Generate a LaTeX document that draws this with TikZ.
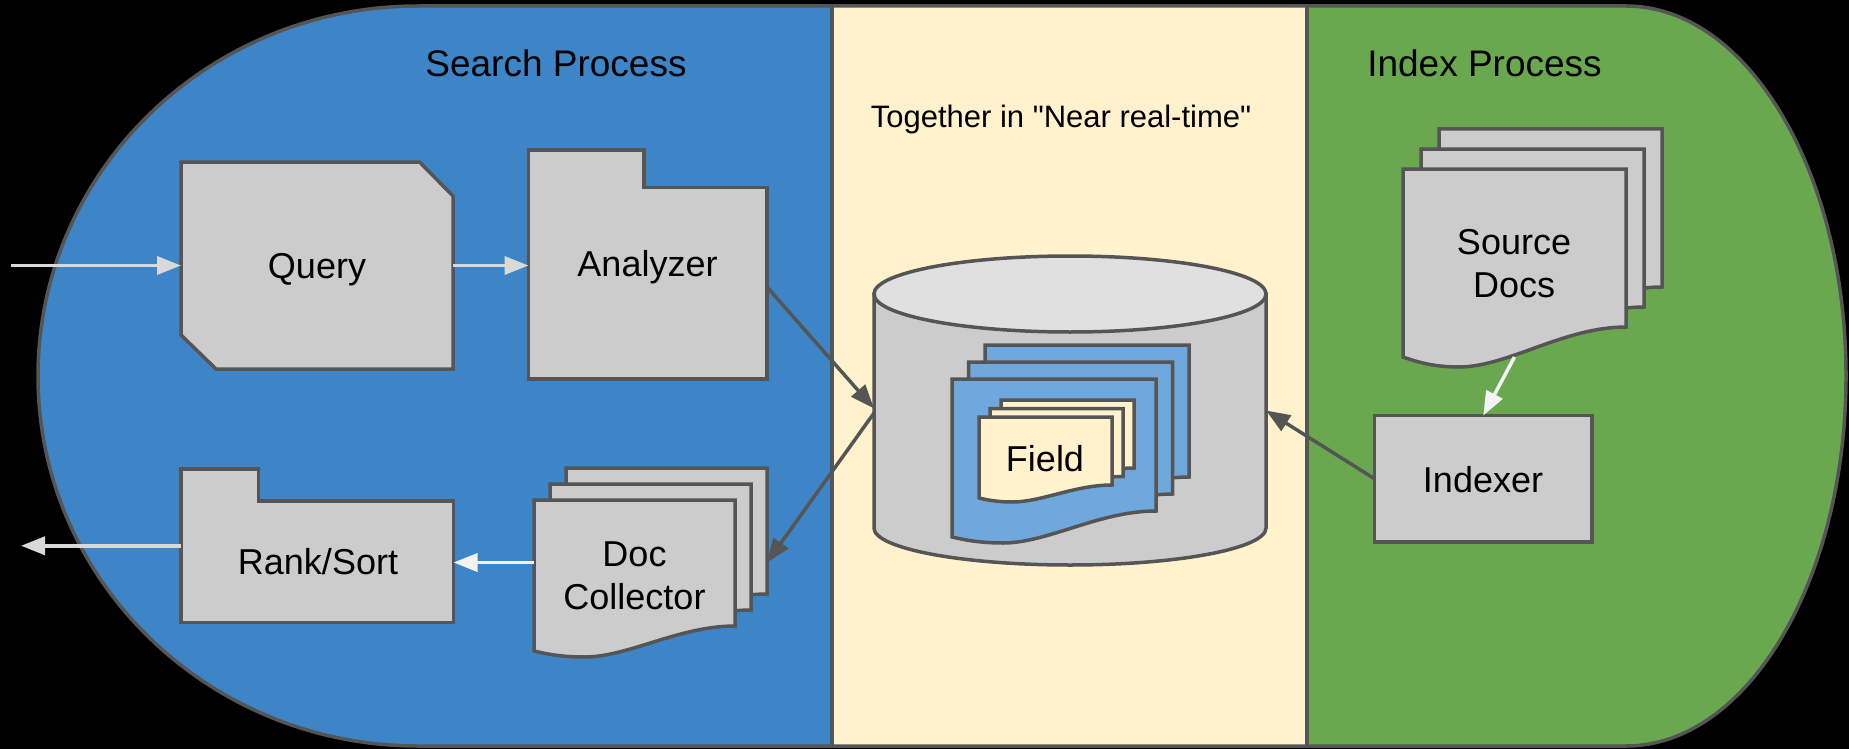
\documentclass[tikz,border=0pt]{standalone}
\usepackage{fontspec}
\setmainfont{Liberation Sans}
% same face without TeX ligatures, so that " stays a straight quote
\newfontfamily\straightquotes{Liberation Sans}
\usetikzlibrary{arrows.meta}

\definecolor{searchblue}{HTML}{3D85C6}
\definecolor{indexgreen}{HTML}{6AA84F}
\definecolor{nrtyellow}{HTML}{FFF2CC}
\definecolor{boxgray}{HTML}{CCCCCC}
\definecolor{lidgray}{HTML}{E0E0E0}
\definecolor{segblue}{HTML}{6FA8DC}
\definecolor{edgegray}{HTML}{555555}
\definecolor{lightline}{HTML}{D9D9D9}
\definecolor{whiteline}{HTML}{F3F3F3}

% document page with a wavy bottom edge
% #1 style, #2 left, #3 top, #4 right, #5 bottom at right, #6 bottom at left, #7 lowest point of the wave
\newcommand\pagewave[7]{%
  \filldraw[#1] (#2,#3) -- (#4,#3) -- (#4,#5)
    .. controls ({#4-0.28*(#4-#2)},#5) and ({#2+0.47*(#4-#2)},#7) .. ({#2+0.25*(#4-#2)},#7)
    .. controls ({#2+0.12*(#4-#2)},#7) and ({#2+0.04*(#4-#2)},{#6+0.3*(#7-#6)}) .. (#2,#6) -- cycle;}

\begin{document}
\begin{tikzpicture}[x=1pt,y=-1pt,
  outline/.style={draw=edgegray, line width=3.5pt},
  shapebox/.style={fill=boxgray, draw=edgegray, line width=3.5pt, line join=miter},
  anchorbox/.style={rectangle, draw=none, fill=none, inner sep=0pt, outer sep=0pt},
  lbl/.style={inner sep=0pt, text=black, align=center, font=\fontsize{36}{43}\selectfont},
  head/.style={inner sep=0pt, text=black, anchor=base, font=\fontsize{37}{44}\selectfont},
  tip/.style={-{Triangle[length=24pt,width=18pt]}},
  darkarrow/.style={draw=edgegray, line width=3.5pt, tip},
  lightarrow/.style={draw=lightline, line width=3.5pt, tip},
  whitearrow/.style={draw=whiteline, line width=3.5pt, tip}]

\useasboundingbox (0,0) rectangle (1849,749);
\fill[black] (0,0) rectangle (1849,749);

% three process lanes inside the rounded outline
\begin{scope}
  \clip (418,6) -- (1626,6) .. controls (1747.5,6) and (1846,171.6) .. (1846,376)
    .. controls (1846,580.4) and (1747.5,746) .. (1626,746) -- (418,746)
    .. controls (208.1,746) and (38,580.4) .. (38,376)
    .. controls (38,171.6) and (208.1,6) .. (418,6) -- cycle;
  \fill[searchblue] (0,0) rectangle (832,749);
  \fill[nrtyellow] (832,0) rectangle (1307,749);
  \fill[indexgreen] (1307,0) rectangle (1849,749);
\end{scope}
\draw[outline] (418,6) -- (1626,6) .. controls (1747.5,6) and (1846,171.6) .. (1846,376)
    .. controls (1846,580.4) and (1747.5,746) .. (1626,746) -- (418,746)
    .. controls (208.1,746) and (38,580.4) .. (38,376)
    .. controls (38,171.6) and (208.1,6) .. (418,6) -- cycle;
\draw[outline] (832,6) -- (832,746);
\draw[outline] (1307,6) -- (1307,746);

% lane titles
\node[head] (searchtitle) at (556,77) {Search Process};
\node[head, font=\straightquotes\fontsize{31}{37}\selectfont] (nrttitle) at (1061,128) {Together in "Near real-time"};
\node[head] (indextitle) at (1484.5,77) {Index Process};

% Query: card with two clipped corners
\filldraw[shapebox] (181,162) -- (419.5,162) -- (453,196) -- (453,369) -- (216,369) -- (181,335) -- cycle;
\node[anchorbox, minimum width=272pt, minimum height=207pt] (query) at (317,265.5) {};
\node[lbl, anchor=base] (querytext) at (317,278) {Query};

% Analyzer: folder with a tab
\filldraw[shapebox] (528.5,150) -- (644,150) -- (644,187.5) -- (767,187.5) -- (767,379) -- (528.5,379) -- cycle;
\node[anchorbox, minimum width=238.5pt, minimum height=229pt] (analyzer) at (647.75,264.5) {};
\node[lbl, anchor=base] (analyzertext) at (647.5,276) {Analyzer};

% Rank/Sort: folder with a tab
\filldraw[shapebox] (181,469) -- (258.5,469) -- (258.5,501) -- (453.5,501) -- (453.5,622.5) -- (181,622.5) -- cycle;
\node[anchorbox, minimum width=272.5pt, minimum height=153.5pt] (rank) at (317.25,545.75) {};
\node[lbl, anchor=base] (ranktext) at (318,574) {Rank/Sort};

% Doc Collector: stack of pages
\pagewave{shapebox}{566}{468}{767}{594}{619}{625}
\pagewave{shapebox}{550}{484}{751}{610}{635}{641}
\pagewave{shapebox}{534}{500}{735}{626}{651}{657}
\node[anchorbox, minimum width=233pt, minimum height=189pt] (collector) at (650.5,562.5) {};
\node[lbl] (collectortext) at (634.5,576) {Doc\\Collector};

% index store: cylinder holding documents made of fields
\filldraw[shapebox] (874,294) -- (874,528) .. controls (874,548.4) and (961.75,565) .. (1070,565)
  .. controls (1178.25,565) and (1266,548.4) .. (1266,528) -- (1266,294) -- cycle;
\filldraw[shapebox, fill=lidgray] (1070,294) ellipse [x radius=196, y radius=38];
\node[anchorbox, minimum width=392pt, minimum height=309pt] (store) at (1070,410.5) {};
\pagewave{shapebox, fill=segblue}{985}{345}{1189}{477}{503}{509}
\pagewave{shapebox, fill=segblue}{968.5}{362}{1172.5}{494}{520}{526}
\pagewave{shapebox, fill=segblue}{952}{379}{1156}{511}{537}{543}
\pagewave{shapebox, fill=nrtyellow}{1001}{400}{1134}{468}{481}{485}
\pagewave{shapebox, fill=nrtyellow}{990}{408.5}{1123}{476.5}{489.5}{493.5}
\pagewave{shapebox, fill=nrtyellow}{979}{417}{1112}{485}{498}{502}
\node[lbl, anchor=base] (fieldtext) at (1045,471.5) {Field};

% Source Docs: stack of pages
\pagewave{shapebox}{1439}{129}{1662}{287}{317}{327}
\pagewave{shapebox}{1421}{149}{1644}{307}{337}{347}
\pagewave{shapebox}{1403}{169}{1626}{327}{357}{367}
\node[anchorbox, minimum width=223pt, minimum height=198pt] (source) at (1514.5,268) {};
\node[lbl] (sourcetext) at (1514,264) {Source\\Docs};

% Indexer
\filldraw[shapebox] (1374.5,415.5) rectangle (1592,542);
\node[anchorbox, minimum width=217.5pt, minimum height=126.5pt] (indexer) at (1483.25,478.75) {};
\node[lbl, anchor=base] (indexertext) at (1483,492) {Indexer};

% connectors
\coordinate (request) at (11,265.5);
\coordinate (response) at (21,545.75);
\draw[lightarrow] (request) -- (query.west);
\draw[lightarrow] (query.east) -- (query.east -| analyzer.west);
\draw[darkarrow] ([yshift=-22.5pt]analyzer.east) -- ([yshift=2pt]store.west);
\draw[darkarrow] ([yshift=-2.5pt]store.west) -- (collector.east);
\draw[whitearrow] (collector.west) -- (collector.west -| rank.east);
\draw[lightarrow] (rank.west) -- (response);
\draw[whitearrow] ([yshift=10pt]source.south) -- (indexer.north);
\draw[darkarrow] (indexer.west) -- (store.east);

\end{tikzpicture}
\end{document}
